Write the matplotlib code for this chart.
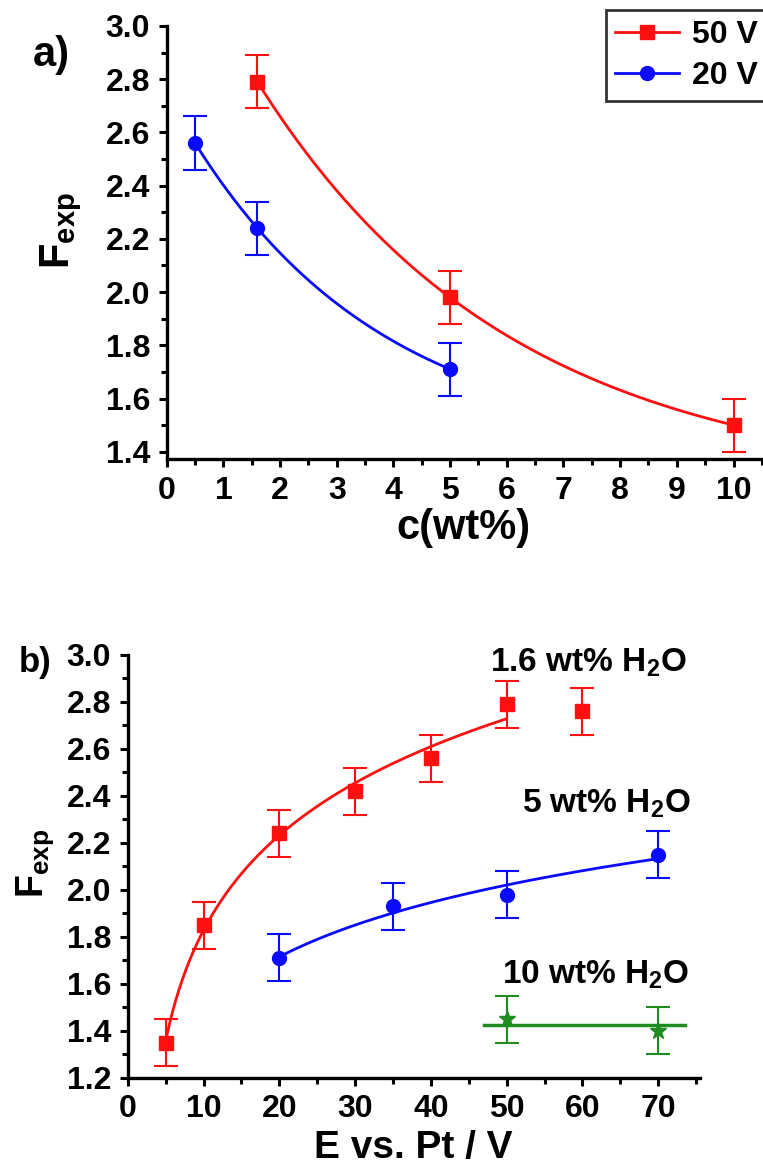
import matplotlib
matplotlib.use("Agg")
import matplotlib.pyplot as plt
from matplotlib.lines import Line2D
from matplotlib.ticker import MultipleLocator
import numpy as np

plt.rcParams['font.family'] = ['Liberation Sans', 'DejaVu Sans']
plt.rcParams['font.weight'] = 'bold'
plt.rcParams['mathtext.fontset'] = 'custom'
plt.rcParams['mathtext.rm'] = 'Liberation Sans:bold'
plt.rcParams['mathtext.it'] = 'Liberation Sans:bold'
plt.rcParams['mathtext.bf'] = 'Liberation Sans:bold'

RED = '#ff1010'
BLUE = '#0a0aff'
GREEN = '#1e8c1e'

# a) F_exp vs water content
c_50 = [1.6, 5, 10]
f_50 = [2.79, 1.98, 1.50]
c_20 = [0.5, 1.6, 5]
f_20 = [2.56, 2.24, 1.71]
err_a = 0.1

# b) F_exp vs applied voltage
e_16 = [5, 10, 20, 30, 40, 50, 60]
f_16 = [1.35, 1.85, 2.24, 2.42, 2.56, 2.79, 2.76]
e_5 = [20, 35, 50, 70]
f_5 = [1.71, 1.93, 1.98, 2.15]
e_10 = [50, 70]
f_10 = [1.45, 1.40]
err_b = 0.1


def fit_exp(x, y):
    # y = y0 + A*exp(-k*x), best k by scan
    x = np.asarray(x, float)
    y = np.asarray(y, float)
    best = None
    for k in np.linspace(0.01, 3, 3000):
        M = np.column_stack([np.ones_like(x), np.exp(-k * x)])
        coef, *_ = np.linalg.lstsq(M, y, rcond=None)
        r = np.sum((M @ coef - y) ** 2)
        if best is None or r < best[0]:
            best = (r, k, coef)
    _, k, (y0, A) = best
    return lambda t: y0 + A * np.exp(-k * t)


def fit_log(x, y, shifts):
    # y = a + b*ln(x - s), best s by scan
    x = np.asarray(x, float)
    y = np.asarray(y, float)
    best = None
    for s in shifts:
        M = np.column_stack([np.ones_like(x), np.log(x - s)])
        coef, *_ = np.linalg.lstsq(M, y, rcond=None)
        r = np.sum((M @ coef - y) ** 2)
        if best is None or r < best[0]:
            best = (r, s, coef)
    _, s, (a, b) = best
    return lambda t: a + b * np.log(t - s)


def style(ax):
    for side in ('top', 'right'):
        ax.spines[side].set_visible(False)
    for side in ('left', 'bottom'):
        ax.spines[side].set_linewidth(2.4)
    ax.tick_params(which='major', direction='out', length=6, width=2.2,
                   labelsize=23, pad=6)
    ax.tick_params(which='minor', direction='out', length=4, width=2.2)
    for lab in ax.get_xticklabels() + ax.get_yticklabels():
        lab.set_fontweight('bold')


fig = plt.figure(figsize=(7.63, 11.64), dpi=100)

eb = dict(linestyle='none', elinewidth=1.5, capsize=8.5, capthick=1.5)

# ---- panel a ----
ax1 = fig.add_axes([0.2185, 0.6057, 0.780, 0.372])
f_red = fit_exp(c_50, f_50)
f_blue = fit_exp(c_20, f_20)
xr = np.linspace(c_50[0], c_50[-1], 200)
xb = np.linspace(c_20[0], c_20[-1], 200)
ax1.plot(xr, f_red(xr), color=RED, lw=2)
ax1.plot(xb, f_blue(xb), color=BLUE, lw=2)
ax1.errorbar(c_50, f_50, yerr=err_a, marker='s', ms=9.5, color=RED, **eb)
ax1.errorbar(c_20, f_20, yerr=err_a, marker='o', ms=10, color=BLUE, **eb)
ax1.set_xlim(0, 10.5)
ax1.set_ylim(1.373, 3.0)
ax1.xaxis.set_major_locator(MultipleLocator(1))
ax1.xaxis.set_minor_locator(MultipleLocator(0.5))
ax1.set_yticks([1.4, 1.6, 1.8, 2.0, 2.2, 2.4, 2.6, 2.8, 3.0])
ax1.set_yticklabels(['1.4', '1.6', '1.8', '2.0', '2.2', '2.4', '2.6', '2.8', '3.0'])
ax1.yaxis.set_minor_locator(MultipleLocator(0.1))
style(ax1)

handles = [
    Line2D([], [], color=RED, lw=2, marker='s', ms=9.5),
    Line2D([], [], color=BLUE, lw=2, marker='o', ms=10),
]
leg = fig.legend(handles, ['50 V', '20 V'], loc='upper right',
                 bbox_to_anchor=(1.006, 0.991), fontsize=23, frameon=True,
                 fancybox=False, edgecolor='black', handlelength=2.0,
                 handletextpad=0.4, borderpad=0.3, labelspacing=0.35,
                 borderaxespad=0)
leg.get_frame().set_linewidth(2)
for t in leg.get_texts():
    t.set_fontweight('bold')

fig.text(0.043, 0.943, 'a)', fontsize=30, fontweight='bold')
fig.text(0.080, 0.802, r'F$_{\rm exp}$', fontsize=30, fontweight='bold',
         rotation=90, ha='center', va='center')
fig.text(0.607, 0.546, 'c(wt%)', fontsize=30, fontweight='bold',
         ha='center', va='center')

# ---- panel b ----
ax2 = fig.add_axes([0.1674, 0.0741, 0.750, 0.3632])
g_red = fit_log(e_16[:6], f_16[:6], np.linspace(0, 4.9, 500))
g_blue = fit_log(e_5, f_5, np.linspace(0, 19, 400))
xr2 = np.linspace(e_16[0], e_16[5], 300)
xb2 = np.linspace(e_5[0], e_5[-1], 300)
ax2.plot(xr2, g_red(xr2), color=RED, lw=2)
ax2.plot(xb2, g_blue(xb2), color=BLUE, lw=2)
ax2.plot([47, 73.5], [np.mean(f_10)] * 2, color=GREEN, lw=2.5)
ax2.errorbar(e_16, f_16, yerr=err_b, marker='s', ms=9.5, color=RED, **eb)
ax2.errorbar(e_5, f_5, yerr=err_b, marker='o', ms=10, color=BLUE, **eb)
ax2.errorbar(e_10, f_10, yerr=err_b, marker='*', ms=12, color=GREEN, **eb)
ax2.set_xlim(0, 75.5)
ax2.set_ylim(1.2, 3.0)
ax2.xaxis.set_major_locator(MultipleLocator(10))
ax2.xaxis.set_minor_locator(MultipleLocator(5))
ax2.set_yticks([1.2, 1.4, 1.6, 1.8, 2.0, 2.2, 2.4, 2.6, 2.8, 3.0])
ax2.set_yticklabels(['1.2', '1.4', '1.6', '1.8', '2.0', '2.2', '2.4', '2.6', '2.8', '3.0'])
ax2.yaxis.set_minor_locator(MultipleLocator(0.1))
style(ax2)

ax2.text(47.8, 2.93, r'1.6 wt% H$_2$O', fontsize=24, fontweight='bold')
ax2.text(52.0, 2.33, r'5 wt% H$_2$O', fontsize=24, fontweight='bold')
ax2.text(49.4, 1.60, r'10 wt% H$_2$O', fontsize=24, fontweight='bold')

fig.text(0.024, 0.423, 'b)', fontsize=25, fontweight='bold')
fig.text(0.046, 0.258, r'F$_{\rm exp}$', fontsize=27, fontweight='bold',
         rotation=90, ha='center', va='center')
fig.text(0.541, 0.005, 'E vs. Pt / V', fontsize=28, fontweight='bold',
         ha='center', va='baseline')

fig.savefig('out.png', dpi=100)
